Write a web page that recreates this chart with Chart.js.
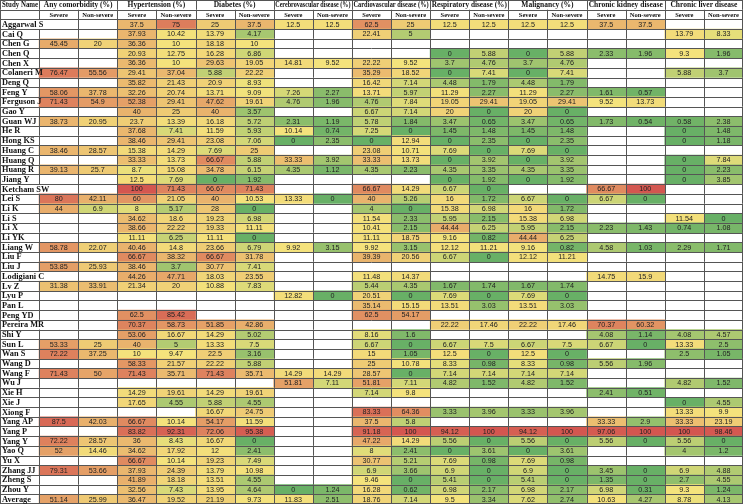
<!DOCTYPE html>
<html><head><meta charset="utf-8">
<script src="https://cdn.jsdelivr.net/npm/chart.js@4.4.1/dist/chart.umd.min.js"></script>
<style>html,body{margin:0;padding:0;background:#fff;overflow:hidden}#wrap{width:743px;height:504px}</style>
</head><body><div id="wrap"><canvas id="c" width="743" height="504"></canvas></div>
<script>
const N = null;
const studies = ['Aggarwal S','Cai Q','Chen G','Chen Q','Chen X','Colaneri M','Deng Q','Feng Y','Ferguson J','Gao Y','Guan WJ','He R','Hong KS','Huang C','Huang Q','Huang R','Jiang Y','Ketcham SW','Lei S','Li K','Li S','Li X','Li YK','Liang W','Liu F','Liu J','Lodigiani C','Lv Z','Lyu P','Pan L','Peng YD','Pereira MR','Shi Y','Sun L','Wan S','Wang D','Wang F','Wu J','Xie H','Xie J','Xiong F','Yang AP','Yang P','Yang Y','Yao Q','Yu X','Zhang JJ','Zheng S','Zhou Y','Average'];
const groups = ['Any comorbidity (%)','Hypertension (%)','Diabetes (%)','Cerebrovascular disease (%)','Cardiovascular disease (%)','Respiratory disease (%)','Malignancy (%)','Chronic kidney disease','Chronic liver disease'];
const subHeaders = ['Severe','Non-severe'];

const anyComorbiditySevere = [N,N,45.45,N,N,76.47,N,58.06,71.43,N, 38.73,N,N,38.46,N,39.13,N,N,80,44, N,N,N,58.78,N,53.85,N,31.38,N,N, N,N,N,53.33,72.22,N,71.43,N,N,N, N,87.5,N,72.22,52,N,79.31,N,N,51.14];
const anyComorbidityNonSevere = [N,N,20,N,N,55.56,N,37.78,54.9,N, 20.95,N,N,28.57,N,25.7,N,N,42.11,6.9, N,N,N,22.07,N,25.93,N,33.91,N,N, N,N,N,25,37.25,N,50,N,N,N, N,42.03,N,28.57,14.46,N,53.66,N,N,25.99];
const hypertensionSevere = [37.5,37.93,36.36,20.93,36.36,29.41,35.82,32.26,52.38,40, 23.7,37.68,38.46,15.38,33.33,8.7,12.5,100,60,8, 34.62,38.66,11.11,40.46,66.67,38.46,44.26,21.34,N,N, 62.5,70.37,53.06,40,10,58.33,71.43,N,14.29,17.65, N,66.67,83.82,36,34.62,66.67,37.93,41.89,32.56,36.47];
const hypertensionNonSevere = [75,10.42,10,12.75,10,37.04,21.43,20.74,29.41,25, 13.39,7.41,29.41,14.29,13.73,15.08,7.69,71.43,21.05,5.17, 18.6,22.22,6.25,14.8,38.32,3.7,47.71,20,N,N, 85.42,58.73,16.67,5,9.47,21.57,35.71,N,19.61,4.55, N,10.14,92.31,8.43,17.92,10.14,24.39,18.18,7.43,19.52];
const diabetesSevere = [25,13.79,18.18,16.28,29.63,5.88,20.9,13.71,47.62,40, 16.18,11.59,23.08,7.69,66.67,34.78,0,66.67,40,28, 19.23,19.33,11.11,23.66,66.67,30.77,18.03,10.88,N,N, N,51.85,14.29,13.33,22.5,22.22,71.43,N,14.29,5.88, 16.67,54.17,72.06,16.67,12,19.23,13.79,13.51,13.95,21.19];
const diabetesNonSevere = [37.5,4.17,10,6.86,19.05,22.22,8.93,9.09,19.61,3.57, 5.72,5.93,7.06,25,5.88,6.15,1.92,71.43,10.53,0, 6.98,11.11,0,6.79,31.78,7.41,23.55,7.83,N,N, N,42.86,5.02,7.5,3.16,5.88,35.71,N,19.61,4.55, 24.75,11.59,95.38,0,2.41,7.49,10.98,4.55,4.64,9.73];
const cerebrovascularSevere = [12.5,N,N,N,14.81,N,N,7.26,4.76,N, 2.31,10.14,0,N,33.33,4.35,N,N,13.33,N, N,N,N,9.92,N,N,N,N,12.82,N, N,N,N,N,N,N,14.29,51.81,N,N, N,N,N,N,N,N,N,N,0,11.83];
const cerebrovascularNonSevere = [12.5,N,N,N,9.52,N,N,2.27,1.96,N, 1.19,0.74,2.35,N,3.92,1.12,N,N,0,N, N,N,N,3.15,N,N,N,N,0,N, N,N,N,N,N,N,14.29,7.11,N,N, N,N,N,N,N,N,N,N,1.24,2.51];
const cardiovascularSevere = [62.5,22.41,N,N,22.22,35.29,16.42,13.71,4.76,6.67, 5.78,7.25,0,23.08,33.33,4.35,N,66.67,40,4, 11.54,10.41,11.11,9.92,39.39,N,11.48,5.44,20.51,35.14, 62.5,N,8.16,6.67,15,25,28.57,51.81,7.14,N, 83.33,37.5,91.18,47.22,8,30.77,6.9,9.46,16.28,18.76];
const cardiovascularNonSevere = [25,5,N,N,9.52,18.52,7.14,5.97,7.84,7.14, 1.84,0,12.94,10.71,13.73,2.23,N,14.29,5.26,0, 2.33,2.15,18.75,3.15,20.56,N,14.37,4.35,0,15.15, 54.17,N,1.6,0,1.05,10.78,0,7.11,9.8,N, 64.36,5.8,100,14.29,2.41,5.21,3.66,0,0.62,7.14];
const respiratorySevere = [12.5,N,N,0,3.7,0,4.48,11.29,19.05,20, 3.47,1.45,0,7.69,0,4.35,0,6.67,16,15.38, 5.95,44.44,9.16,12.12,6.67,N,N,1.67,7.69,13.51, N,22.22,N,6.67,12.5,8.33,7.14,4.82,N,N, 3.33,N,94.12,5.56,0,7.69,6.9,5.41,6.98,9.5];
const respiratoryNonSevere = [12.5,N,N,5.88,4.76,7.41,1.79,2.27,29.41,0, 0.65,1.48,2.35,0,3.92,3.35,1.92,0,1.72,6.98, 2.15,6.25,0.82,11.21,0,N,N,1.74,0,3.03, N,17.46,N,7.5,0,0.98,7.14,1.52,N,N, 3.96,N,100,0,3.61,0.98,0,0,2.17,3.34];
const malignancySevere = [12.5,N,N,0,3.7,0,4.48,11.29,19.05,20, 3.47,1.45,0,7.69,0,4.35,0,N,6.67,16, 15.38,5.95,44.44,9.16,12.12,N,N,1.67,7.69,13.51, N,22.22,N,6.67,12.5,8.33,7.14,4.82,N,N, 3.33,N,94.12,5.56,0,7.69,6.9,5.41,6.98,7.62];
const malignancyNonSevere = [12.5,N,N,5.88,4.76,7.41,1.79,2.27,29.41,0, 0.65,1.48,2.35,0,3.92,3.35,1.92,N,0,1.72, 6.98,2.15,6.25,0.82,11.21,N,N,1.74,0,3.03, N,17.46,N,7.5,0,0.98,7.14,1.52,N,N, 3.96,N,100,0,3.61,0.98,0,0,2.17,2.74];
const kidneySevere = [37.5,N,N,2.33,N,N,N,1.61,9.52,N, 1.73,N,N,N,N,N,N,66.67,6.67,N, N,2.23,N,4.58,N,N,14.75,N,N,N, N,70.37,4.08,6.67,N,5.56,N,N,2.41,N, N,33.33,97.06,5.56,N,N,3.45,1.35,6.98,10.63];
const kidneyNonSevere = [37.5,N,N,1.96,N,N,N,0.57,13.73,N, 0.54,N,N,N,N,N,N,100,0,N, N,1.43,N,1.03,N,N,15.9,N,N,N, N,60.32,1.14,0,N,1.96,N,N,0.51,N, N,2.9,100,0,N,N,0,0,0.31,4.27];
const liverSevere = [N,13.79,N,9.3,N,5.88,N,N,N,N, 0.58,0,0,N,0,0,0,N,N,N, 11.54,0.74,N,2.29,N,N,N,N,N,N, N,N,4.08,13.33,2.5,N,N,4.82,N,0, 13.33,33.33,100,5.56,4,N,6.9,2.7,9.3,8.78];
const liverNonSevere = [N,8.33,N,1.96,N,3.7,N,N,N,N, 2.38,1.48,1.18,N,7.84,2.23,3.85,N,N,N, 0,1.08,N,1.71,N,N,N,N,N,N, N,N,4.57,2.5,1.05,N,N,1.52,N,4.55, 9.9,23.19,98.46,0,1.2,N,4.88,4.55,1.24,4.13];

const columns = [anyComorbiditySevere, anyComorbidityNonSevere, hypertensionSevere, hypertensionNonSevere, diabetesSevere, diabetesNonSevere, cerebrovascularSevere, cerebrovascularNonSevere, cardiovascularSevere, cardiovascularNonSevere, respiratorySevere, respiratoryNonSevere, malignancySevere, malignancyNonSevere, kidneySevere, kidneyNonSevere, liverSevere, liverNonSevere];
columns.forEach((c, j) => { if (c.length !== studies.length) throw new Error('column ' + j + ' has ' + c.length); });

// 3-colour scale: min green, median yellow, max red
const allVals = columns.flat().filter(v => v !== null).sort((a, b) => a - b);
const vMin = allVals[0], vMax = allVals[allVals.length - 1];
const m = allVals.length;
const vMid = m % 2 ? allVals[(m - 1) / 2] : (allVals[m / 2 - 1] + allVals[m / 2]) / 2;
const GREEN = [104, 176, 102], YELLOW = [244, 227, 124], RED = [212, 86, 80];
function mix(a, b, t) { return 'rgb(' + a.map((v, k) => Math.round(v + (b[k] - v) * t)).join(',') + ')'; }
function cellColor(v) {
  if (v <= vMid) return mix(GREEN, YELLOW, (v - vMin) / (vMid - vMin));
  return mix(YELLOW, RED, (v - vMid) / (vMax - vMid));
}

const rowLabels = ['h1', 'h2'].concat(studies);
const datasets = columns.map((col, j) => ({
  data: rowLabels.map((_, i) => (i < 2 || col[i - 2] === null) ? null : [j + 1, j + 2]),
  backgroundColor: rowLabels.map((_, i) => (i < 2 || col[i - 2] === null) ? 'rgba(0,0,0,0)' : cellColor(col[i - 2])),
  borderWidth: 0, borderSkipped: false, barPercentage: 1, categoryPercentage: 1, grouped: false
}));

const tablePlugin = {
  id: 'table',
  afterDatasetsDraw(chart) {
    const { ctx, scales: { x, y } } = chart;
    const rowH = y.getPixelForValue(1) - y.getPixelForValue(0);
    const top = i => y.getPixelForValue(i) - rowH / 2;
    const xp = k => x.getPixelForValue(k);
    const nRows = rowLabels.length;
    ctx.save();
    ctx.font = 'bold 8px "Liberation Serif"';
    const overflow = rowLabels.map((l, i) => i >= 2 && ctx.measureText(l).width > (xp(1) - xp(0) - 3));
    // grid
    ctx.strokeStyle = '#555'; ctx.lineWidth = 1;
    for (let i = 0; i <= nRows; i++) {
      let yy = Math.round(top(i)) + 0.5; yy = Math.min(yy, chart.height - 0.5);
      ctx.beginPath(); ctx.moveTo(xp(0), yy); ctx.lineTo(xp(19), yy); ctx.stroke();
    }
    for (let k = 0; k <= 19; k++) {
      let xx = Math.round(xp(k)) + 0.5; xx = Math.min(xx, chart.width - 0.5);
      for (let i = 0; i < nRows; i++) {
        if (i === 0 && k % 2 === 0 && k > 0 && k < 19) continue;
        if (k === 1 && overflow[i]) continue;
        ctx.beginPath(); ctx.moveTo(xx, top(i)); ctx.lineTo(xx, top(i + 1)); ctx.stroke();
      }
    }
    ctx.fillStyle = '#111'; ctx.textBaseline = 'middle';
    // header row 1
    ctx.font = 'bold 8px "Liberation Serif"'; ctx.textAlign = 'left';
    ctx.fillText('Study Name', xp(0) + 2, y.getPixelForValue(0) + 0.5, xp(1) - xp(0) - 3);
    ctx.textAlign = 'center';
    ctx.font = 'bold 7.5px "Liberation Serif"';
    groups.forEach((g, gi) => ctx.fillText(g, xp(2 + 2 * gi), y.getPixelForValue(0) + 0.5, xp(3) - xp(1) - 3));
    // header row 2
    ctx.font = 'bold 6.5px "Liberation Serif"';
    for (let j = 0; j < 18; j++) ctx.fillText(subHeaders[j % 2], xp(j + 1.5), y.getPixelForValue(1) + 0.5);
    // study names
    ctx.textAlign = 'left'; ctx.font = 'bold 8.3px "Liberation Serif"';
    studies.forEach((s, r) => ctx.fillText(s, xp(0) + 2, y.getPixelForValue(r + 2) + 0.5));
    // values
    ctx.textAlign = 'center'; ctx.font = '7.2px "Liberation Sans"'; ctx.fillStyle = '#222';
    columns.forEach((col, j) => col.forEach((v, r) => {
      if (v !== null) ctx.fillText(String(v), xp(j + 1.5), y.getPixelForValue(r + 2) + 0.5);
    }));
    ctx.restore();
  }
};

new Chart(document.getElementById('c'), {
  type: 'bar',
  data: { labels: rowLabels, datasets },
  options: {
    indexAxis: 'y', responsive: false, animation: false,
    layout: { padding: 0 },
    scales: {
      x: { type: 'linear', min: 0, max: 19, display: false },
      y: { type: 'category', display: false, offset: true }
    },
    plugins: { legend: { display: false }, tooltip: { enabled: false } }
  },
  plugins: [tablePlugin]
});
</script></body></html>
